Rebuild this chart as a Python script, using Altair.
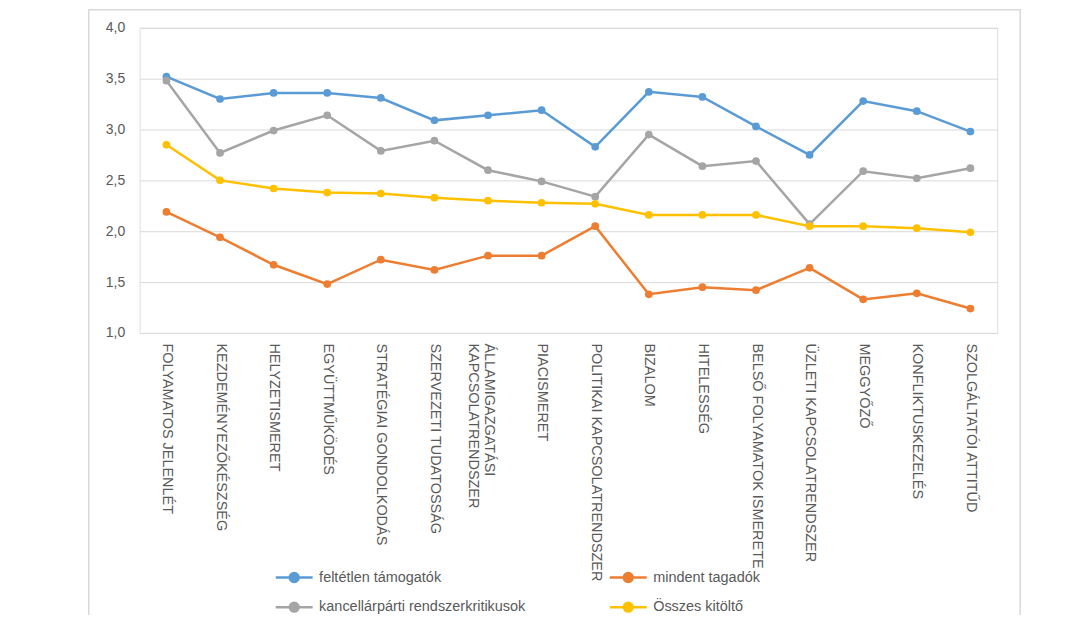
import altair as alt
import pandas as pd

categories = [
    "FOLYAMATOS JELENLÉT", "KEZDEMÉNYEZŐKÉSZSÉG", "HELYZETISMERET", "EGYÜTTMŰKÖDÉS",
    "STRATÉGIAI GONDOLKODÁS", "SZERVEZETI TUDATOSSÁG", "ÁLLAMIGAZGATÁSI\nKAPCSOLATRENDSZER",
    "PIACISMERET", "POLITIKAI KAPCSOLATRENDSZER", "BIZALOM", "HITELESSÉG",
    "BELSŐ FOLYAMATOK ISMERETE", "ÜZLETI KAPCSOLATRENDSZER", "MEGGYŐZŐ",
    "KONFLIKTUSKEZELÉS", "SZOLGÁLTATÓI ATTITŰD",
]
series_names = ["feltétlen támogatók", "mindent tagadók",
                "kancellárpárti rendszerkritikusok", "Összes kitöltő"]
series_colors = ["#5B9BD5", "#ED7D31", "#A5A5A5", "#FFC000"]

feltetlen = [3.52, 3.30, 3.36, 3.36, 3.31, 3.09, 3.14, 3.19, 2.83, 3.37, 3.32, 3.03, 2.75, 3.28, 3.18, 2.98]
mindent = [2.19, 1.94, 1.67, 1.48, 1.72, 1.62, 1.76, 1.76, 2.05, 1.38, 1.45, 1.42, 1.64, 1.33, 1.39, 1.24]
kancellar = [3.48, 2.77, 2.99, 3.14, 2.79, 2.89, 2.60, 2.49, 2.34, 2.95, 2.64, 2.69, 2.07, 2.59, 2.52, 2.62]
osszes = [2.85, 2.50, 2.42, 2.38, 2.37, 2.33, 2.30, 2.28, 2.27, 2.16, 2.16, 2.16, 2.05, 2.05, 2.03, 1.99]

y_ticks = [1.0, 1.5, 2.0, 2.5, 3.0, 3.5, 4.0]

rows = []
for si, (name, vals) in enumerate(zip(series_names, [feltetlen, mindent, kancellar, osszes])):
    for ci, (cat, v) in enumerate(zip(categories, vals)):
        rows.append({"kategoria": cat, "sorozat": name, "ertek": v, "rend": si, "ci": ci})
df = pd.DataFrame(rows)

legend_path = "M-1,0H1M-0.24,0A0.24,0.24,0,1,1,0.24,0A0.24,0.24,0,1,1,-0.24,0Z"

lines = alt.Chart(df).mark_line(
    strokeWidth=2.5,
    point=alt.OverlayMarkDef(filled=True, size=60),
).encode(
    x=alt.X("kategoria:N", sort=categories, title=None,
            scale=alt.Scale(paddingInner=0, paddingOuter=0.5),
            axis=alt.Axis(labelAngle=90, labelAlign="left", labelBaseline="middle",
                          labelExpr="split(datum.label, '\\n')",
                          labelFontSize=14.5, labelColor="#595959", labelFont="Liberation Sans",
                          labelPadding=10, ticks=False, domain=False, grid=False,
                          labelLimit=0, labelLineHeight=16)),
    y=alt.Y("ertek:Q", title=None,
            scale=alt.Scale(domain=[1, 4], nice=False, zero=False),
            axis=alt.Axis(values=y_ticks, labelExpr="replace(format(datum.value, '.1f'), '.', ',')",
                          labelFontSize=14, labelColor="#595959", labelFont="Liberation Sans",
                          labelPadding=15, ticks=False, domain=False,
                          grid=True, gridColor="#D9D9D9", gridWidth=1)),
    color=alt.Color("sorozat:N", sort=series_names,
                    scale=alt.Scale(domain=series_names, range=series_colors),
                    legend=alt.Legend(
                        title=None, orient="none", legendX=135, legendY=531,
                        direction="horizontal", columns=2, columnPadding=78, rowPadding=0,
                        symbolType=legend_path, symbolSize=1369, symbolStrokeWidth=2.5,
                        labelFontSize=14.5, labelColor="#595959", labelFont="Liberation Sans",
                        labelOffset=5, padding=0, labelLimit=0,
                    )),
    order=alt.Order("rend:Q"),
    detail="sorozat:N",
)

frame = alt.Chart(pd.DataFrame({"a": [0]})).mark_rect(
    fill="transparent", stroke="#D9D9D9", strokeWidth=1.5
).encode(
    x=alt.value(-51), x2=alt.value(883), y=alt.value(-18), y2=alt.value(640)
)

chart = alt.layer(frame, lines).properties(
    width=860, height=306,
    padding={"left": 132, "top": 19, "right": 70, "bottom": 282},
    autosize=alt.AutoSizeParams(type="none"),
).configure_view(stroke=None).configure(background="white")

chart.save("out.html", embed_options={"renderer": "svg", "actions": False})
